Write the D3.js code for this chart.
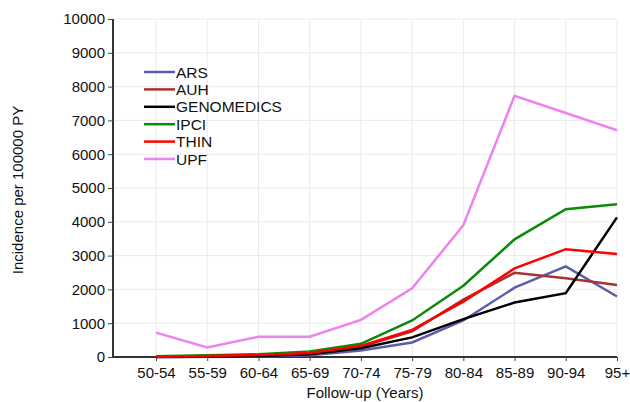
<!DOCTYPE html>
<html><head><meta charset="utf-8">
<script src="https://cdn.jsdelivr.net/npm/d3@7"></script>
<style>body{margin:0;background:#fff}svg{display:block}text{font-family:"Liberation Sans",Arial,sans-serif}</style>
</head><body><svg id="c" width="630" height="402"></svg>
<script>
const categories = ["50-54","55-59","60-64","65-69","70-74","75-79","80-84","85-89","90-94","95+"];
const seriesNames = ["ARS","AUH","GENOMEDICS","IPCI","THIN","UPF"];
const seriesColors = ["#5c5cae","#a83232","#000000","#0a8a0a","#ff0000","#ee82ee"];
const ARS = [0,10,20,50,190,430,1080,2050,2680,1790];
const AUH = [5,25,50,100,300,760,1700,2490,2330,2130];
const GENOMEDICS = [0,10,30,80,260,580,1120,1610,1890,4130];
const IPCI = [20,50,80,160,390,1080,2110,3480,4370,4520];
const THIN = [10,30,60,120,330,800,1640,2620,3190,3050];
const UPF = [720,280,600,600,1100,2030,3900,7730,7220,6710];
const yTicks = [0,1000,2000,3000,4000,5000,6000,7000,8000,9000,10000];
const values = [ARS,AUH,GENOMEDICS,IPCI,THIN,UPF];

const svg = d3.select("#c");
const L = 113, R = 617, T = 19, B = 357;
const x = d3.scaleLinear().domain([-0.84, categories.length-1]).range([L, R]);
const y = d3.scaleLinear().domain([0, 10000]).range([B, T]);

// grid
const g = svg.append("g");
g.selectAll("line.h").data(yTicks.slice(1)).join("line")
  .attr("x1", L).attr("x2", R).attr("y1", d=>y(d)).attr("y2", d=>y(d))
  .attr("stroke", "#ebebeb").attr("stroke-width", 1);
g.selectAll("line.v").data(categories).join("line")
  .attr("x1", (d,i)=>x(i)).attr("x2", (d,i)=>x(i)).attr("y1", T).attr("y2", B)
  .attr("stroke", "#ebebeb").attr("stroke-width", 1);

// axes
const yAxis = d3.axisLeft(y).tickValues(yTicks).tickSize(5).tickPadding(3).tickFormat(d3.format("d"));
const ya = svg.append("g").attr("transform", `translate(${L},0)`).call(yAxis);
const xAxis = d3.axisBottom(x).tickValues(d3.range(categories.length)).tickSize(4).tickPadding(6).tickFormat(i=>categories[i]);
const xa = svg.append("g").attr("transform", `translate(0,${B})`).call(xAxis);
[ya, xa].forEach(a => {
  a.select(".domain").attr("stroke", "#333").attr("stroke-width", 2);
  a.selectAll(".tick line").attr("stroke", "#444");
  a.selectAll("text").attr("font-size", 15).attr("fill", "#111").style("font-family", '"Liberation Sans",Arial,sans-serif');
});
ya.select(".domain").attr("d", `M0,${T}V${B}`);
xa.select(".domain").attr("d", `M${L},0H${R}`);

// lines
const line = d3.line().x((d,i)=>x(i)).y(d=>y(d));
values.forEach((v, k) => {
  svg.append("path").datum(v).attr("d", line).attr("fill", "none")
    .attr("stroke", seriesColors[k]).attr("stroke-width", 2.5).attr("stroke-linejoin", "miter");
});

// legend
const lg = svg.append("g");
seriesNames.forEach((n, k) => {
  const yy = 72 + k*17.4;
  lg.append("line").attr("x1", 144).attr("x2", 175).attr("y1", yy).attr("y2", yy)
    .attr("stroke", seriesColors[k]).attr("stroke-width", 2.5);
  lg.append("text").attr("x", 176).attr("y", yy).attr("dy", "0.36em")
    .attr("font-size", 15.5).attr("fill", "#111").text(n);
});

// titles
svg.append("text").attr("x", 365).attr("y", 398).attr("text-anchor", "middle")
  .attr("font-size", 15).attr("fill", "#111").text("Follow-up (Years)");
svg.append("text").attr("transform", "translate(23,190) rotate(-90)").attr("text-anchor", "middle")
  .attr("font-size", 15).attr("fill", "#111").text("Incidence per 100000 PY");
</script></body></html>
